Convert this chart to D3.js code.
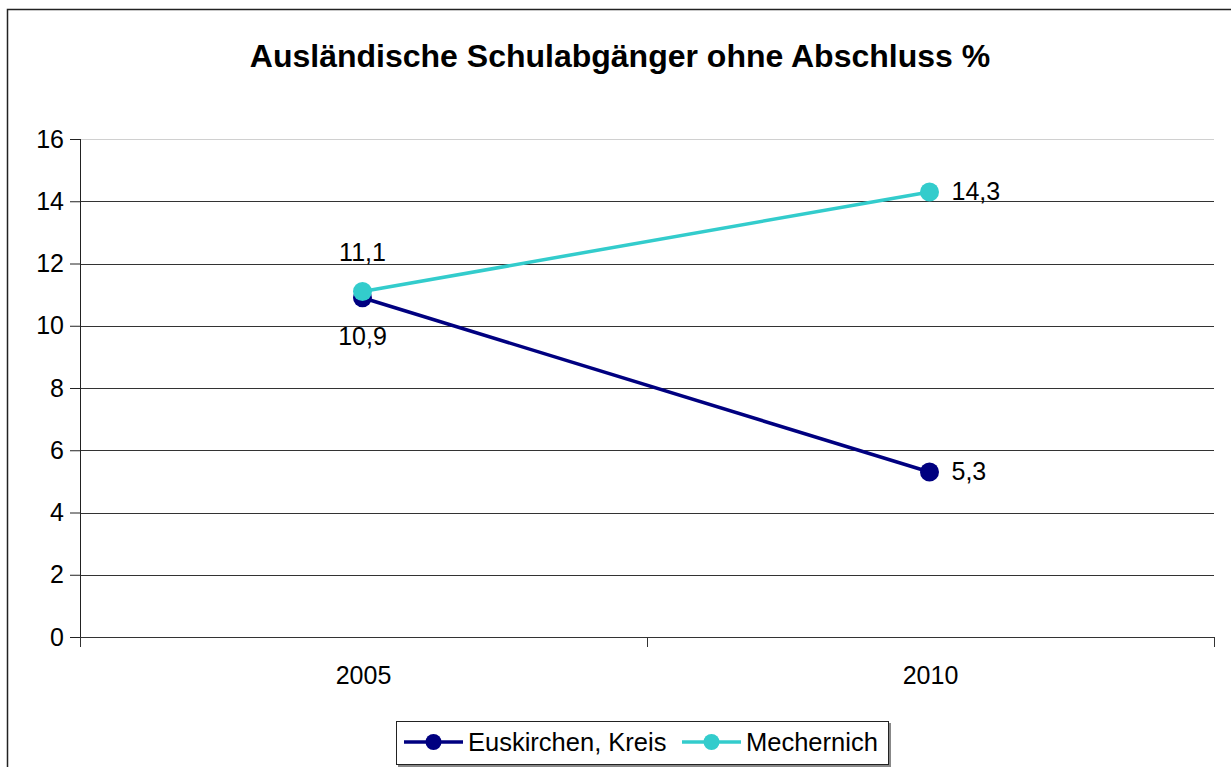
<!DOCTYPE html>
<html>
<head>
<meta charset="utf-8">
<script src="https://cdn.jsdelivr.net/npm/d3@7"></script>
<style>
  body { margin: 0; background: #fff; }
  text { font-family: "Liberation Sans", Arial, sans-serif; }
</style>
</head>
<body>
<script>
var years = ["2005", "2010"];
var seriesNames = ["Euskirchen, Kreis", "Mechernich"];
var euskirchenValues = [10.9, 5.3];
var mechernichValues = [11.1, 14.3];
var yTicks = [0, 2, 4, 6, 8, 10, 12, 14, 16];
var seriesColors = ["#000080", "#33cccc"];

var series = [
  {name: seriesNames[0], values: euskirchenValues, color: seriesColors[0]},
  {name: seriesNames[1], values: mechernichValues, color: seriesColors[1]}
];

var margin = {top: 139, right: 17, bottom: 130, left: 80};
var width = 1231 - margin.left - margin.right;
var height = 767 - margin.top - margin.bottom;

var svg = d3.select("body")
  .append("svg")
  .attr("width", 1231)
  .attr("height", 767);

// outer chart frame (runs off right and bottom edges)
svg.append("rect")
  .attr("x", 7.5)
  .attr("y", 9.5)
  .attr("width", 1300)
  .attr("height", 900)
  .attr("fill", "none")
  .attr("stroke", "#222")
  .attr("stroke-width", 1.5);

svg.append("text")
  .attr("x", 620)
  .attr("y", 67)
  .attr("text-anchor", "middle")
  .style("font-size", "32px")
  .style("font-weight", "bold")
  .text("Ausländische Schulabgänger ohne Abschluss %");

var g = svg.append("g")
  .attr("transform", "translate(" + margin.left + "," + margin.top + ")");

var xScale = d3.scaleBand()
  .domain(years)
  .range([0, width]);

var yScale = d3.scaleLinear()
  .domain([0, 16])
  .range([height, 0]);

// gridlines
g.selectAll(".grid")
  .data(yTicks.filter(function(d) { return d > 0; }))
  .enter().append("line")
  .attr("class", "grid")
  .attr("x1", 0)
  .attr("x2", width)
  .attr("y1", function(d) { return Math.round(yScale(d)) + 0.5; })
  .attr("y2", function(d) { return Math.round(yScale(d)) + 0.5; })
  .attr("stroke", function(d) { return d === 16 ? "#d0d0d0" : "#333"; })
  .attr("stroke-width", 1);

var yAxis = d3.axisLeft(yScale)
  .tickValues(yTicks)
  .tickSize(10)
  .tickPadding(6)
  .tickFormat(d3.format("d"));

var yAxisG = g.append("g").call(yAxis);
yAxisG.select(".domain").attr("stroke", "#222").attr("d", "M0.5," + height + "V0");
yAxisG.selectAll("line").attr("stroke", "#222");
yAxisG.selectAll("text").style("font-size", "25px").attr("fill", "#000");

var xAxisG = g.append("g")
  .attr("transform", "translate(0," + height + ")");

xAxisG.append("line")
  .attr("x1", 0).attr("x2", width)
  .attr("y1", 0.5).attr("y2", 0.5)
  .attr("stroke", "#333");

var xBounds = [0].concat(years.map(function(d) { return xScale(d) + xScale.bandwidth(); }));
xAxisG.selectAll(".xtick")
  .data(xBounds)
  .enter().append("line")
  .attr("x1", function(d) { return Math.round(d) + 0.5; })
  .attr("x2", function(d) { return Math.round(d) + 0.5; })
  .attr("y1", 0)
  .attr("y2", 10)
  .attr("stroke", "#333");

xAxisG.selectAll(".xlabel")
  .data(years)
  .enter().append("text")
  .attr("x", function(d) { return xScale(d) + xScale.bandwidth() / 2; })
  .attr("y", 47)
  .attr("text-anchor", "middle")
  .style("font-size", "25px")
  .text(function(d) { return d; });

var line = d3.line()
  .x(function(d, i) { return xScale(years[i]) + xScale.bandwidth() / 2 - 1; })
  .y(function(d) { return yScale(d); });

series.forEach(function(s) {
  g.append("path")
    .datum(s.values)
    .attr("fill", "none")
    .attr("stroke", s.color)
    .attr("stroke-width", 3.5)
    .attr("d", line);

  g.selectAll(null)
    .data(s.values)
    .enter().append("circle")
    .attr("cx", function(d, i) { return xScale(years[i]) + xScale.bandwidth() / 2 - 1; })
    .attr("cy", function(d) { return yScale(d); })
    .attr("r", 9.5)
    .attr("fill", s.color);
});

function fmt(v) { return String(v).replace(".", ","); }

// data labels
g.append("text")
  .attr("x", xScale(years[0]) + xScale.bandwidth() / 2 - 1)
  .attr("y", yScale(mechernichValues[0]) - 31)
  .attr("text-anchor", "middle")
  .style("font-size", "25px")
  .text(fmt(mechernichValues[0]));

g.append("text")
  .attr("x", xScale(years[0]) + xScale.bandwidth() / 2 - 1)
  .attr("y", yScale(euskirchenValues[0]) + 47)
  .attr("text-anchor", "middle")
  .style("font-size", "25px")
  .text(fmt(euskirchenValues[0]));

g.append("text")
  .attr("x", xScale(years[1]) + xScale.bandwidth() / 2 + 21)
  .attr("y", yScale(mechernichValues[1]) + 8)
  .style("font-size", "25px")
  .text(fmt(mechernichValues[1]));

g.append("text")
  .attr("x", xScale(years[1]) + xScale.bandwidth() / 2 + 21)
  .attr("y", yScale(euskirchenValues[1]) + 8)
  .style("font-size", "25px")
  .text(fmt(euskirchenValues[1]));

// legend
var legend = svg.append("g").attr("transform", "translate(396,721)");
legend.append("rect")
  .attr("x", 2).attr("y", 2)
  .attr("width", 493).attr("height", 44)
  .attr("fill", "#888");
legend.append("rect")
  .attr("x", 0.5).attr("y", 0.5)
  .attr("width", 492).attr("height", 43)
  .attr("fill", "#fff")
  .attr("stroke", "#222");

var legendX = [8, 286];
series.forEach(function(s, i) {
  var lg = legend.append("g").attr("transform", "translate(" + legendX[i] + ",21)");
  lg.append("line")
    .attr("x1", 0).attr("x2", 59)
    .attr("y1", 0).attr("y2", 0)
    .attr("stroke", s.color)
    .attr("stroke-width", 3.5);
  lg.append("circle")
    .attr("cx", 29.5).attr("cy", 0).attr("r", 8)
    .attr("fill", s.color);
  lg.append("text")
    .attr("x", 64).attr("y", 9)
    .style("font-size", "25.5px")
    .text(s.name);
});
</script>
</body>
</html>
